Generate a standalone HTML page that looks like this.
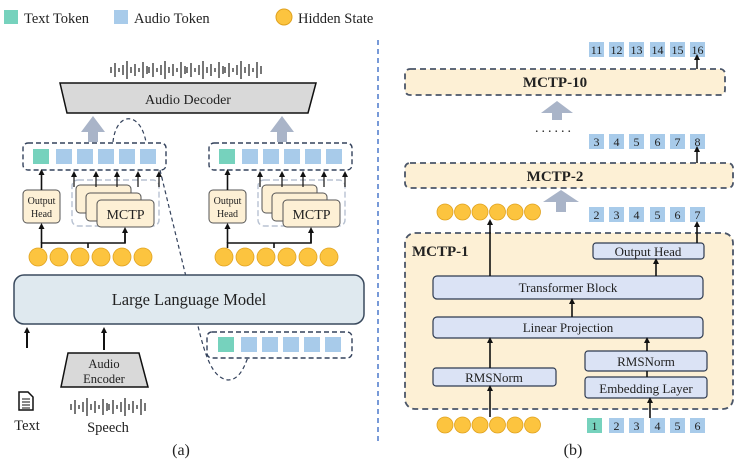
<!DOCTYPE html>
<html><head><meta charset="utf-8"><style>
html,body{margin:0;padding:0;background:#fff;}
svg{display:block;}
text{font-family:"Liberation Serif",serif;fill:#222;}
</style></head><body>
<svg width="753" height="471" viewBox="0 0 753 471" xmlns="http://www.w3.org/2000/svg">
<defs>
<marker id="ah" markerWidth="6" markerHeight="6" refX="3" refY="3" orient="auto" markerUnits="userSpaceOnUse"><path d="M0,0 L6,3 L0,6 z" fill="#111"/></marker>
<g id="aw">
<rect x="0" y="7" width="2" height="6" fill="#777"/><rect x="4" y="3" width="2" height="14" fill="#777"/><rect x="8" y="8" width="2" height="4" fill="#777"/><rect x="12" y="5" width="2" height="10" fill="#777"/><rect x="16" y="1" width="2" height="18" fill="#777"/><rect x="20" y="7" width="2" height="6" fill="#777"/><rect x="24" y="4" width="2" height="12" fill="#777"/><rect x="28" y="8" width="2" height="4" fill="#777"/><rect x="32" y="2" width="2" height="16" fill="#777"/><rect x="36" y="6" width="2" height="8" fill="#777"/>
</g>
<g id="tok">
<rect x="0" y="0" width="16" height="15" fill="#76d2bd"/>
<rect x="23" y="0" width="16" height="15" fill="#a8cbea"/><rect x="44" y="0" width="16" height="15" fill="#a8cbea"/><rect x="65" y="0" width="16" height="15" fill="#a8cbea"/><rect x="86" y="0" width="16" height="15" fill="#a8cbea"/><rect x="107" y="0" width="16" height="15" fill="#a8cbea"/>
</g>
<g id="circ" fill="#fcc43f" stroke="#e0a21f" stroke-width="0.8">
<circle cx="0" cy="0" r="9"/><circle cx="21" cy="0" r="9"/><circle cx="42" cy="0" r="9"/><circle cx="63" cy="0" r="9"/><circle cx="84" cy="0" r="9"/><circle cx="105" cy="0" r="9"/>
</g>
<g id="circb" fill="#fcc43f" stroke="#e0a21f" stroke-width="0.8">
<circle cx="0" cy="0" r="8"/><circle cx="17.5" cy="0" r="8"/><circle cx="35" cy="0" r="8"/><circle cx="52.5" cy="0" r="8"/><circle cx="70" cy="0" r="8"/><circle cx="87.5" cy="0" r="8"/>
</g>
<g id="unit">
<rect x="0" y="0" width="143" height="27" rx="5" fill="none" stroke="#34425c" stroke-width="1.4" stroke-dasharray="5,3"/>
<use href="#tok" x="10" y="6"/>
<rect x="49" y="37" width="87" height="46" rx="6" fill="none" stroke="#b8c2d2" stroke-width="1.4" stroke-dasharray="6,3"/>
<rect x="53" y="42" width="55" height="28" rx="4" fill="#fdf0d5" stroke="#555" stroke-width="1"/>
<rect x="63" y="50" width="55" height="28" rx="4" fill="#fdf0d5" stroke="#555" stroke-width="1"/>
<rect x="74" y="57" width="57" height="27" rx="4" fill="#fdf0d5" stroke="#555" stroke-width="1"/>
<text x="102.5" y="76" font-size="14" text-anchor="middle">MCTP</text>
<rect x="0" y="47" width="37" height="33" rx="4" fill="#fdf0d5" stroke="#555" stroke-width="1"/>
<text x="18.5" y="61" font-size="10" text-anchor="middle">Output</text>
<text x="18.5" y="74" font-size="10" text-anchor="middle">Head</text>
<line x1="18.5" y1="47" x2="18.5" y2="29" stroke="#111" stroke-width="1.6" marker-end="url(#ah)"/>
<g stroke="#111" stroke-width="1.2">
<line x1="51" y1="44" x2="51" y2="31" marker-end="url(#ah)"/><line x1="73" y1="44" x2="73" y2="31" marker-end="url(#ah)"/><line x1="94" y1="44" x2="94" y2="31" marker-end="url(#ah)"/><line x1="115" y1="44" x2="115" y2="31" marker-end="url(#ah)"/><line x1="136" y1="44" x2="136" y2="31" marker-end="url(#ah)"/>
</g>
<polyline points="18.5,105 18.5,100 102,100 102,89" fill="none" stroke="#111" stroke-width="1.6"/>
<line x1="18.5" y1="100" x2="18.5" y2="83" stroke="#111" stroke-width="1.6" marker-end="url(#ah)"/>
<line x1="102" y1="100" x2="102" y2="87" stroke="#111" stroke-width="1.6" marker-end="url(#ah)"/>
<line x1="65" y1="100" x2="65" y2="105" stroke="#111" stroke-width="1.6"/>
<use href="#circ" x="15" y="114"/>
</g>
</defs>

<rect x="4" y="10" width="14" height="14" fill="#76d2bd"/>
<text x="24" y="23" font-size="14.5">Text Token</text>
<rect x="114" y="10" width="14" height="14" fill="#a8cbea"/>
<text x="134" y="23" font-size="14.5">Audio Token</text>
<circle cx="284" cy="17" r="8" fill="#fcc43f" stroke="#e0a21f"/>
<text x="298" y="23" font-size="14.5">Hidden State</text>

<line x1="378" y1="40" x2="378" y2="445" stroke="#4c78cc" stroke-width="1.5" stroke-dasharray="5,4"/>

<use href="#aw" x="110" y="60"/><use href="#aw" x="148" y="60"/><use href="#aw" x="186" y="60"/><use href="#aw" x="224" y="60"/>
<polygon points="60,83 316,83 308,113 67,113" fill="#d9d9d9" stroke="#111" stroke-width="1.5"/>
<text x="188" y="104" font-size="14" text-anchor="middle">Audio Decoder</text>
<polygon points="81,132 93,116 105,132 98,132 98,142 88,142 88,132" fill="#a9b4c8"/>
<polygon points="270,132 282,116 294,132 287,132 287,142 277,142 277,132" fill="#a9b4c8"/>

<use href="#unit" x="23" y="143"/>
<use href="#unit" x="209" y="143"/>

<path d="M113,142 C116,112 140,110 146,142" fill="none" stroke="#34425c" stroke-width="1.2" stroke-dasharray="4,3"/>
<path d="M160,170 L198,326 C205,355 212,378 228,380 C240,380 245,365 248,357" fill="none" stroke="#34425c" stroke-width="1.2" stroke-dasharray="4,3"/>

<rect x="14" y="275" width="350" height="49" rx="10" fill="#dfe9ef" stroke="#3a4a5e" stroke-width="1.5"/>
<text x="189" y="305" font-size="16.5" text-anchor="middle">Large Language Model</text>

<rect x="207" y="332" width="145" height="26" rx="5" fill="#fff" stroke="#34425c" stroke-width="1.4" stroke-dasharray="5,3"/>
<use href="#tok" x="218" y="337"/>

<line x1="27" y1="348" x2="27" y2="330" stroke="#111" stroke-width="2" marker-end="url(#ah)"/>
<line x1="104" y1="350" x2="104" y2="330" stroke="#111" stroke-width="2" marker-end="url(#ah)"/>
<polygon points="68,353 139,353 148,387 61,387" fill="#d9d9d9" stroke="#111" stroke-width="1.5"/>
<text x="104" y="368" font-size="12.5" text-anchor="middle">Audio</text>
<text x="104" y="383" font-size="12.5" text-anchor="middle">Encoder</text>
<use href="#aw" x="70" y="397"/><use href="#aw" x="108" y="397"/>
<path d="M19,392 L28,392 L33,397 L33,410 L19,410 Z" fill="#fff" stroke="#111" stroke-width="1.5"/>
<g stroke="#111" stroke-width="1"><line x1="22" y1="399" x2="30" y2="399"/><line x1="22" y1="402" x2="30" y2="402"/><line x1="22" y1="405" x2="30" y2="405"/><line x1="22" y1="408" x2="30" y2="408"/></g>
<text x="27" y="430" font-size="14.5" text-anchor="middle">Text</text>
<text x="108" y="432" font-size="14.5" text-anchor="middle">Speech</text>
<text x="181" y="455" font-size="16" text-anchor="middle">(a)</text>

<g font-size="12" text-anchor="middle">
<g fill="#a8cbea">
<rect x="589" y="42" width="15" height="15"/><rect x="609" y="42" width="15" height="15"/><rect x="629" y="42" width="15" height="15"/><rect x="650" y="42" width="15" height="15"/><rect x="670" y="42" width="15" height="15"/><rect x="690" y="42" width="15" height="15"/>
<rect x="589" y="134" width="15" height="15"/><rect x="609" y="134" width="15" height="15"/><rect x="629" y="134" width="15" height="15"/><rect x="650" y="134" width="15" height="15"/><rect x="670" y="134" width="15" height="15"/><rect x="690" y="134" width="15" height="15"/>
<rect x="589" y="207" width="15" height="15"/><rect x="609" y="207" width="15" height="15"/><rect x="629" y="207" width="15" height="15"/><rect x="650" y="207" width="15" height="15"/><rect x="670" y="207" width="15" height="15"/><rect x="690" y="207" width="15" height="15"/>
<rect x="609" y="418" width="15" height="15"/><rect x="629" y="418" width="15" height="15"/><rect x="650" y="418" width="15" height="15"/><rect x="670" y="418" width="15" height="15"/><rect x="690" y="418" width="15" height="15"/>
</g>
<rect x="587" y="418" width="15" height="15" fill="#76d2bd"/>
<text x="596.5" y="54">11</text><text x="616.5" y="54">12</text><text x="636.5" y="54">13</text><text x="657.5" y="54">14</text><text x="677.5" y="54">15</text><text x="697.5" y="54">16</text>
<text x="596.5" y="146">3</text><text x="616.5" y="146">4</text><text x="636.5" y="146">5</text><text x="657.5" y="146">6</text><text x="677.5" y="146">7</text><text x="697.5" y="146">8</text>
<text x="596.5" y="219">2</text><text x="616.5" y="219">3</text><text x="636.5" y="219">4</text><text x="657.5" y="219">5</text><text x="677.5" y="219">6</text><text x="697.5" y="219">7</text>
<text x="594.5" y="430">1</text><text x="616.5" y="430">2</text><text x="636.5" y="430">3</text><text x="657.5" y="430">4</text><text x="677.5" y="430">5</text><text x="697.5" y="430">6</text>
</g>

<rect x="405" y="69" width="320" height="26" rx="5" fill="#fdf0d5" stroke="#4a5568" stroke-width="1.8" stroke-dasharray="6,4"/>
<text x="555" y="87" font-size="15" font-weight="bold" text-anchor="middle">MCTP-10</text>
<rect x="405" y="163" width="328" height="25" rx="5" fill="#fdf0d5" stroke="#4a5568" stroke-width="1.8" stroke-dasharray="6,4"/>
<text x="555" y="181" font-size="15" font-weight="bold" text-anchor="middle">MCTP-2</text>
<line x1="697" y1="69" x2="697" y2="57" stroke="#111" stroke-width="1.5" marker-end="url(#ah)"/>
<line x1="697" y1="163" x2="697" y2="149" stroke="#111" stroke-width="1.5" marker-end="url(#ah)"/>
<polygon points="541,113 557,101 573,113 562,113 562,120 552,120 552,113" fill="#a9b4c8"/>
<polygon points="543,202 561,190 579,202 566,202 566,212 556,212 556,202" fill="#a9b4c8"/>
<text x="535" y="132" font-size="14" letter-spacing="3">......</text>

<use href="#circb" x="445" y="212"/>
<rect x="405" y="233" width="328" height="176" rx="10" fill="#fdf0d5" stroke="#4a5568" stroke-width="1.8" stroke-dasharray="6,4"/>
<text x="412" y="256" font-size="15" font-weight="bold">MCTP-1</text>
<g fill="#dbe3f5" stroke="#2e3a50" stroke-width="1.2">
<rect x="593" y="243" width="111" height="16" rx="3"/>
<rect x="433" y="276" width="270" height="23" rx="4"/>
<rect x="433" y="317" width="270" height="21" rx="4"/>
<rect x="433" y="368" width="123" height="18" rx="3"/>
<rect x="585" y="351" width="122" height="20" rx="3"/>
<rect x="585" y="377" width="122" height="21" rx="3"/>
</g>
<g font-size="13" text-anchor="middle">
<text x="648" y="256">Output Head</text>
<text x="568" y="292">Transformer Block</text>
<text x="568" y="332">Linear Projection</text>
<text x="494" y="382">RMSNorm</text>
<text x="646" y="366">RMSNorm</text>
<text x="646" y="393">Embedding Layer</text>
</g>
<g stroke="#111" stroke-width="1.6">
<line x1="490" y1="417" x2="490" y2="388" marker-end="url(#ah)"/>
<line x1="490" y1="368" x2="490" y2="340" marker-end="url(#ah)"/>
<line x1="572" y1="317" x2="572" y2="301" marker-end="url(#ah)"/>
<line x1="656" y1="276" x2="656" y2="261" marker-end="url(#ah)"/>
<line x1="697" y1="243" x2="697" y2="224" marker-end="url(#ah)"/>
<line x1="490" y1="276" x2="490" y2="222" marker-end="url(#ah)"/>
<line x1="650" y1="418" x2="650" y2="400" marker-end="url(#ah)"/>
<line x1="647" y1="351" x2="647" y2="340" marker-end="url(#ah)"/>
<line x1="647" y1="371" x2="647" y2="377"/>
</g>
<use href="#circb" x="445" y="425"/>
<text x="573" y="455" font-size="16" text-anchor="middle">(b)</text>
</svg>
</body></html>
